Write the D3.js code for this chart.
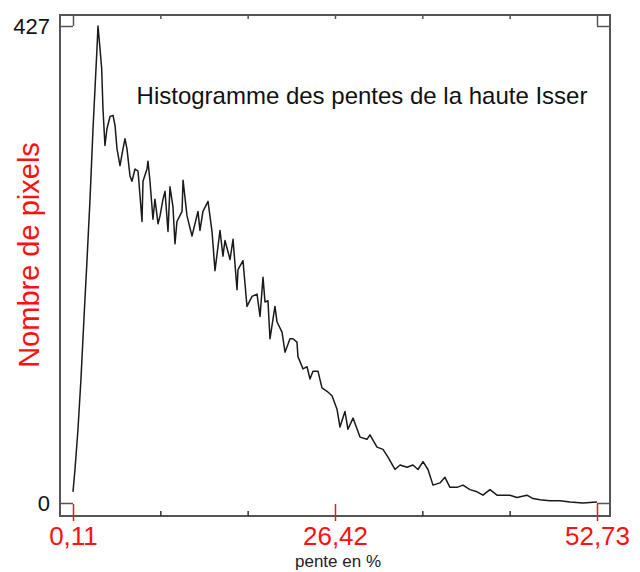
<!DOCTYPE html>
<html>
<head>
<meta charset="utf-8">
<script src="https://cdn.jsdelivr.net/npm/d3@7"></script>
<style>
  html, body { margin: 0; padding: 0; background: #fff; }
  svg { display: block; }
  text { font-family: "Liberation Sans", Arial, sans-serif; }
</style>
</head>
<body>
<svg id="chart" width="640" height="572"></svg>
<script>
// ---- data ----
const slope = [0.11,0.31,0.61,0.91,1.21,1.52,1.82,2.12,2.32,2.52,2.62,2.82,2.99,3.12,3.32,3.52,3.83,4.13,4.33,4.53,
  4.83,5.13,5.33,5.53,5.83,6.03,6.34,6.64,6.84,7.04,7.14,7.54,7.64,7.84,8.14,8.34,8.65,8.85,9.15,9.35,
  9.65,9.85,10.15,10.35,10.55,11.06,11.16,11.56,12.06,12.66,12.86,13.16,13.67,14.07,14.37,14.87,15.17,15.37,15.88,16.18,
  16.58,16.68,17.18,17.58,18.09,18.59,18.89,19.19,19.39,19.69,19.89,20.39,20.60,21.10,21.40,21.90,22.20,22.60,22.70,23.21,
  23.61,23.91,24.21,24.71,25.11,25.62,26.12,26.62,26.92,27.42,27.72,28.23,28.93,29.63,29.93,30.64,31.24,31.74,32.44,32.95,
  33.65,34.25,34.75,35.26,35.76,36.26,36.96,37.46,37.97,38.67,39.27,39.97,40.68,41.28,41.98,42.69,43.29,43.99,44.69,45.70,
  46.30,47.00,48.01,49.01,50.02,51.32,52.73];
const count = [10,30,66,111,165,218,272,335,371,407,427,407,389,353,320,335,346,347,338,317,
  302,317,326,317,293,288,299,297,275,252,288,299,306,288,254,272,250,257,272,279,
  243,283,265,232,252,261,289,257,239,261,244,261,270,243,208,244,221,235,218,236,
  191,209,217,176,185,187,167,202,180,181,147,176,162,153,135,147,147,144,131,120,
  122,111,118,118,103,100,96,84,68,82,66,76,59,57,61,50,48,41,30,34,
  32,34,30,37,30,16,18,23,14,14,16,12,10,7,12,7,7,7,5,7,
  4,3,2,2,1,0,1];

const xTickValues = [0.11, 26.42, 52.73];
const xTickLabels = ["0,11", "26,42", "52,73"];
const xMinorTicks = [8.88, 17.65, 35.19, 43.96];
const yTickValues = [0, 427];
const yTickLabels = ["0", "427"];
const titleText = "Histogramme des pentes de la haute Isser";
const xTitle = "pente en %";
const yTitle = "Nombre de pixels";

// ---- drawing ----
const svg = d3.select("#chart");
const frame = {left: 60, top: 15, right: 610, bottom: 516};

const x = d3.scaleLinear().domain([0.11, 52.73]).range([73, 597]);
const y = d3.scaleLinear().domain([0, 427]).range([503, 26]);

const red = "#ff1010";
const frameColor = "#555";

// frame
svg.append("rect")
  .attr("x", frame.left).attr("y", frame.top)
  .attr("width", frame.right - frame.left).attr("height", frame.bottom - frame.top)
  .attr("fill", "none").attr("stroke", frameColor).attr("stroke-width", 2);

// bottom minor ticks (black)
const gBotMinor = svg.append("g").attr("transform", `translate(0,${frame.bottom})`)
  .call(d3.axisBottom(x).tickValues(xMinorTicks).tickSizeInner(-5).tickSizeOuter(0).tickFormat(""));
gBotMinor.select(".domain").remove();
gBotMinor.selectAll(".tick line").attr("stroke", "#333").attr("stroke-width", 1.5);

// bottom labelled ticks (red)
const gBot = svg.append("g").attr("transform", `translate(0,${frame.bottom})`)
  .call(d3.axisBottom(x).tickValues(xTickValues).tickSizeOuter(0)
    .tickFormat((d, i) => xTickLabels[i]));
gBot.select(".domain").remove();
gBot.selectAll(".tick line").attr("y1", -12).attr("y2", 5).attr("stroke", red).attr("stroke-width", 1.5);
gBot.selectAll(".tick text")
  .attr("y", 29).attr("dy", null)
  .attr("fill", red)
  .style("font-size", "26px")
  .style("font-family", "'Liberation Sans', Arial, sans-serif");

// top ticks
const gTopMinor = svg.append("g").attr("transform", `translate(0,${frame.top})`)
  .call(d3.axisTop(x).tickValues(xMinorTicks.concat([26.42])).tickSizeInner(-4).tickSizeOuter(0).tickFormat(""));
gTopMinor.select(".domain").remove();
gTopMinor.selectAll(".tick line").attr("stroke", frameColor).attr("stroke-width", 1.5);
const gTop = svg.append("g").attr("transform", `translate(0,${frame.top})`)
  .call(d3.axisTop(x).tickValues([0.11, 52.73]).tickSizeInner(-11).tickSizeOuter(0).tickFormat(""));
gTop.select(".domain").remove();
gTop.selectAll(".tick line").attr("stroke", frameColor).attr("stroke-width", 1.5);

// left axis
const gLeft = svg.append("g").attr("transform", `translate(${frame.left},0)`)
  .call(d3.axisLeft(y).tickValues(yTickValues).tickSizeInner(-13).tickSizeOuter(0)
    .tickFormat((d, i) => yTickLabels[i]));
gLeft.select(".domain").remove();
gLeft.selectAll(".tick line").attr("stroke", frameColor).attr("stroke-width", 1.5);
gLeft.selectAll(".tick text")
  .attr("x", -10).attr("dy", "0.35em")
  .attr("fill", "#111")
  .style("font-size", "22px")
  .style("font-family", "'Liberation Sans', Arial, sans-serif");

// right axis
const gRight = svg.append("g").attr("transform", `translate(${frame.right},0)`)
  .call(d3.axisRight(y).tickValues(yTickValues).tickSizeInner(-13).tickSizeOuter(0).tickFormat(""));
gRight.select(".domain").remove();
gRight.selectAll(".tick line").attr("stroke", frameColor).attr("stroke-width", 1.5);

// histogram line
const pts = slope.map((s, i) => [s, count[i]]);
svg.append("path")
  .datum(pts)
  .attr("fill", "none")
  .attr("stroke", "#1a1a1a")
  .attr("stroke-width", 1.5)
  .attr("stroke-linejoin", "round")
  .attr("d", d3.line().x(d => x(d[0])).y(d => y(d[1])));

// title
svg.append("text")
  .attr("x", 362).attr("y", 104)
  .attr("text-anchor", "middle")
  .attr("fill", "#111")
  .style("font-size", "24px")
  .text(titleText);

// x title
svg.append("text")
  .attr("x", 338).attr("y", 567)
  .attr("text-anchor", "middle")
  .attr("fill", "#222")
  .style("font-size", "17px")
  .text(xTitle);

// y title
svg.append("text")
  .attr("transform", "translate(39,255) rotate(-90)")
  .attr("text-anchor", "middle")
  .attr("fill", red)
  .style("font-size", "29px")
  .text(yTitle);
</script>
</body>
</html>
